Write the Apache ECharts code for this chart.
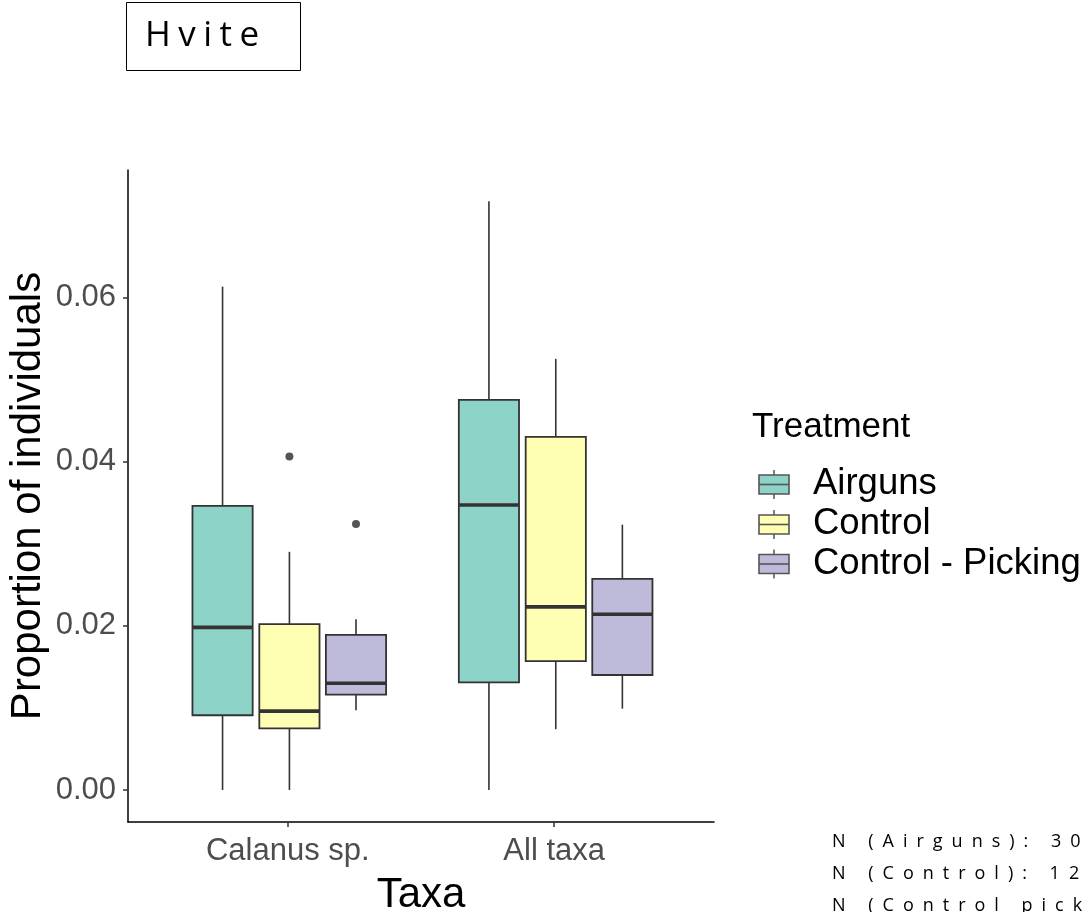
<!DOCTYPE html>
<html>
<head>
<meta charset="utf-8">
<script src="https://cdn.jsdelivr.net/npm/echarts@6/dist/echarts.min.js"></script>
<style>
  html, body { margin: 0; padding: 0; background: #fff; }
  #chart { width: 1090px; height: 912px; }
</style>
</head>
<body>
<div id="chart"></div>
<script>
// ---------------- data ----------------
const categories = ['Calanus sp.', 'All taxa'];
const treatments = ['Airguns', 'Control', 'Control - Picking'];
const colors = ['#8DD3C7', '#FFFFB3', '#BEBADA'];
// [lower whisker, Q1, median, Q3, upper whisker] per category
const airgunsBox = [
  [0.0000, 0.0091, 0.0198, 0.0346, 0.0613],
  [0.0000, 0.0131, 0.0347, 0.0475, 0.0717]
];
const controlBox = [
  [0.0000, 0.0075, 0.0096, 0.0202, 0.0290],
  [0.0074, 0.0157, 0.0223, 0.0430, 0.0525]
];
const pickingBox = [
  [0.0097, 0.0116, 0.0130, 0.0189, 0.0208],
  [0.0099, 0.0140, 0.0214, 0.0257, 0.0323]
];
// outliers: [category index, value]
const airgunsOut = [];
const controlOut = [[0, 0.0406]];
const pickingOut = [[0, 0.0324]];
const yTicks = [0, 0.02, 0.04, 0.06];
const titleText = 'Hvite';
const legendTitle = 'Treatment';
const nLines = ['N (Airguns): 30', 'N (Control): 12', 'N (Control picking): 12'];

const boxData = [airgunsBox, controlBox, pickingBox];
const outData = [airgunsOut, controlOut, pickingOut];
const dodge = [-0.245, 0.006, 0.256];
const halfW = 0.113;

// letter-spaced texts (canvas letterSpacing), isolated with save/restore
const spaced = {};
spaced[titleText] = '7.5px';
nLines.forEach(t => spaced[t] = '9px');
const origFill = CanvasRenderingContext2D.prototype.fillText;
CanvasRenderingContext2D.prototype.fillText = function (t) {
  const sp = spaced[t];
  if (sp && 'letterSpacing' in this) {
    const f = this.font;
    this.save();
    this.letterSpacing = sp;
    this.font = f;
    const r = origFill.apply(this, arguments);
    this.restore();
    this.letterSpacing = '0px';
    this.font = '10px serif';
    this.font = f;
    return r;
  }
  return origFill.apply(this, arguments);
};

const chart = echarts.init(document.getElementById('chart'), null, { renderer: 'canvas' });
const AX = '#333333';
const LBL = '#4D4D4D';
const FONT = '"Liberation Sans", Arial, sans-serif';

const boxSeries = treatments.map((name, ti) => ({
  type: 'custom',
  name: name,
  data: boxData[ti].map((d, ci) => [ci].concat(d)),
  encode: { x: 0, y: [1, 2, 3, 4, 5] },
  renderItem: function (params, api) {
    const x = api.value(0) + dodge[ti];
    const lo = api.value(1), q1 = api.value(2), md = api.value(3), q3 = api.value(4), hi = api.value(5);
    const tl = api.coord([x - halfW, q3]);
    const br = api.coord([x + halfW, q1]);
    const cLo = api.coord([x, lo]);
    const cQ1 = api.coord([x, q1]);
    const cQ3 = api.coord([x, q3]);
    const cHi = api.coord([x, hi]);
    const mL = api.coord([x - halfW, md]);
    const mR = api.coord([x + halfW, md]);
    const ls = { stroke: AX, lineWidth: 1.6 };
    return {
      type: 'group',
      children: [
        { type: 'line', shape: { x1: cHi[0], y1: cHi[1], x2: cQ3[0], y2: cQ3[1] }, style: ls },
        { type: 'line', shape: { x1: cQ1[0], y1: cQ1[1], x2: cLo[0], y2: cLo[1] }, style: ls },
        { type: 'rect', shape: { x: tl[0], y: tl[1], width: br[0] - tl[0], height: br[1] - tl[1] },
          style: { fill: colors[ti], stroke: AX, lineWidth: 1.8 } },
        { type: 'line', shape: { x1: mL[0], y1: mL[1], x2: mR[0], y2: mR[1] }, style: { stroke: AX, lineWidth: 3.6 } }
      ]
    };
  },
  z: 2
}));

const outSeries = treatments.map((name, ti) => ({
  type: 'scatter',
  name: name + ' outliers',
  data: outData[ti].map(o => [o[0] + dodge[ti], o[1]]),
  symbol: 'circle',
  symbolSize: 8,
  itemStyle: { color: '#2b2b2b' },
  z: 3,
  silent: true
}));

// legend (drawn with graphic elements)
const legendEls = [];
legendEls.push({ type: 'text', x: 752, y: 427.5, style: { text: legendTitle, font: '35px ' + FONT, fill: '#000', textVerticalAlign: 'middle', textAlign: 'left' }, z: 10 });
const legRows = [484, 524, 563.5];
treatments.forEach((t, i) => {
  const cy = legRows[i];
  legendEls.push({ type: 'line', shape: { x1: 774, y1: cy - 14, x2: 774, y2: cy + 15 }, style: { stroke: '#555', lineWidth: 1.5 }, z: 10 });
  legendEls.push({ type: 'rect', shape: { x: 759, y: cy - 9, width: 30, height: 19 }, style: { fill: colors[i], stroke: '#555', lineWidth: 1.6 }, z: 11 });
  legendEls.push({ type: 'line', shape: { x1: 759, y1: cy + 0.5, x2: 789, y2: cy + 0.5 }, style: { stroke: '#555', lineWidth: 1.6 }, z: 12 });
  legendEls.push({ type: 'text', x: 813, y: cy, style: { text: t, font: '36.5px ' + FONT, fill: '#000', textVerticalAlign: 'middle', textAlign: 'left' }, z: 10 });
});

const nEls = nLines.map((t, i) => ({
  type: 'text', x: 832, y: 842 + i * 32,
  style: { text: t, font: '18px "Open Sans", sans-serif', fill: '#000', textVerticalAlign: 'middle', textAlign: 'left' },
  z: 10
}));

const option = {
  backgroundColor: '#ffffff',
  animation: false,
  grid: { left: 128, top: 170, right: 376, bottom: 90, containLabel: false, outerBoundsMode: 'none' },
  xAxis: {
    type: 'value', min: -0.6, max: 1.6,
    splitLine: { show: false },
    axisLine: { show: true, onZero: false, lineStyle: { color: '#000', width: 1.5 } },
    axisTick: { show: true, length: 5, lineStyle: { color: AX, width: 1.5 }, customValues: [0, 1] },
    axisLabel: {
      show: true, customValues: [0, 1], margin: 14,
      formatter: v => categories[Math.round(v)] || '',
      color: LBL, fontSize: 31, fontFamily: FONT
    },
    name: 'Taxa', nameLocation: 'middle', nameGap: 52, nameMoveOverlap: false,
    nameTextStyle: { color: '#000', fontSize: 42, fontFamily: FONT }
  },
  yAxis: {
    type: 'value', min: -0.0039, max: 0.0755,
    splitLine: { show: false },
    axisLine: { show: true, onZero: false, lineStyle: { color: '#000', width: 1.5 } },
    axisTick: { show: true, length: 5, lineStyle: { color: AX, width: 1.5 }, customValues: yTicks },
    axisLabel: {
      show: true, customValues: yTicks, margin: 12,
      formatter: v => v.toFixed(2),
      color: LBL, fontSize: 31, fontFamily: FONT
    },
    name: 'Proportion of individuals', nameLocation: 'middle', nameGap: 79, nameMoveOverlap: false,
    nameTextStyle: { color: '#000', fontSize: 42, fontFamily: FONT }
  },
  series: boxSeries.concat(outSeries),
  graphic: [
    { type: 'rect', shape: { x: 126.5, y: 2.5, width: 174, height: 68 }, style: { fill: '#fff', stroke: '#000', lineWidth: 1 }, z: 5 },
    { type: 'text', x: 145, y: 36, style: { text: titleText, font: '35px "Open Sans", sans-serif', fill: '#000', textVerticalAlign: 'middle', textAlign: 'left' }, z: 6 }
  ].concat(legendEls, nEls)
};
chart.setOption(option);
</script>
</body>
</html>
